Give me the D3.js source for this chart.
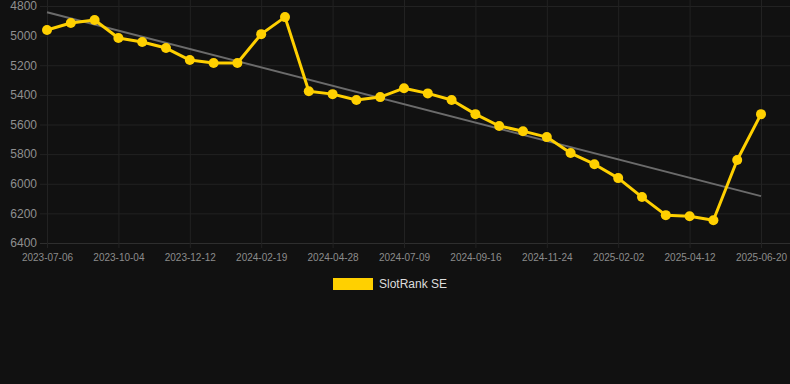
<!DOCTYPE html>
<html>
<head>
<meta charset="utf-8">
<script src="https://cdn.jsdelivr.net/npm/d3@7"></script>
<style>
  html, body { margin: 0; padding: 0; background: #111111; }
  svg { display: block; font-family: "Liberation Sans", Arial, Helvetica, sans-serif; }
</style>
</head>
<body>
<div class="chart"></div>
<script>
// rank per sample (lower is better, axis is reversed)
const ranks = [
  4962, 4915, 4895, 5016, 5043, 5084, 5165, 5185, 5185, 4990,
  4875, 5375, 5395, 5435, 5415, 5355, 5390, 5435, 5530, 5610,
  5645, 5685, 5793, 5868, 5962, 6090, 6212, 6219, 6246, 5840,
  5530
];
// every third sample carries a date label
const tickLabels = [
  '2023-07-06', '2023-10-04', '2023-12-12', '2024-02-19', '2024-04-28',
  '2024-07-09', '2024-09-16', '2024-11-24', '2025-02-02', '2025-04-12',
  '2025-06-20'
];
const yTicks = [4800, 5000, 5200, 5400, 5600, 5800, 6000, 6200, 6400];
const seriesName = 'SlotRank SE';

const FULL_WIDTH = 790;
const FULL_HEIGHT = 384;
const margin = { top: 6, right: 29, bottom: 141, left: 47 };
const height = FULL_HEIGHT - margin.top - margin.bottom;
const width = FULL_WIDTH - margin.left - margin.right;

const svg = d3.select('.chart')
  .append('svg')
    .attr('width', FULL_WIDTH)
    .attr('height', FULL_HEIGHT);

svg.append('rect')
  .attr('width', FULL_WIDTH)
  .attr('height', FULL_HEIGHT)
  .attr('fill', '#111111');

const g = svg.append('g')
  .attr('transform', `translate(${margin.left}, ${margin.top})`);

const xScale = d3.scalePoint()
  .domain(d3.range(ranks.length))
  .range([0, width]);

const yScale = d3.scaleLinear()
  .domain([4800, 6400])
  .range([0, height]);

// horizontal grid
g.append('g')
  .call(d3.axisLeft(yScale)
    .tickValues(yTicks)
    .tickSize(-(FULL_WIDTH - margin.left + 7))
    .tickPadding(10)
    .tickFormat(d3.format('d')))
  .call(ax => ax.select('.domain').remove())
  .call(ax => ax.selectAll('.tick line')
    .attr('x1', -7)
    .attr('stroke', d => d === 6400 ? '#2e2e2e' : '#222222'))
  .call(ax => ax.selectAll('.tick text')
    .attr('fill', '#8f8f8f')
    .attr('font-size', 12));

// vertical grid + date labels
const tickIdx = tickLabels.map((d, i) => i * 3);
g.append('g')
  .attr('transform', `translate(0, ${height})`)
  .call(d3.axisBottom(xScale)
    .tickValues(tickIdx)
    .tickSize(5)
    .tickPadding(6)
    .tickFormat((d, i) => tickLabels[i]))
  .call(ax => ax.select('.domain').remove())
  .call(ax => ax.selectAll('.tick line')
    .attr('y1', -height - margin.top)
    .attr('stroke', '#222222'))
  .call(ax => ax.selectAll('.tick text')
    .attr('fill', '#8c8c8c')
    .attr('font-size', 10));

// least squares trend
const n = ranks.length;
const mx = d3.mean(d3.range(n));
const my = d3.mean(ranks);
const slope = d3.sum(ranks, (v, i) => (i - mx) * (v - my)) /
  d3.sum(d3.range(n), i => (i - mx) ** 2);
const trend = [0, n - 1].map(i => ({ i, v: my + slope * (i - mx) }));

g.append('path')
  .datum(trend)
  .attr('fill', 'none')
  .attr('stroke', '#6b6b6b')
  .attr('stroke-width', 2)
  .attr('d', d3.line().x(d => xScale(d.i)).y(d => yScale(d.v)));

g.append('path')
  .datum(ranks)
  .attr('fill', 'none')
  .attr('stroke', '#ffd000')
  .attr('stroke-width', 3)
  .attr('stroke-linejoin', 'round')
  .attr('d', d3.line().x((d, i) => xScale(i)).y(d => yScale(d)));

g.selectAll('circle')
  .data(ranks)
  .enter()
  .append('circle')
    .attr('cx', (d, i) => xScale(i))
    .attr('cy', d => yScale(d))
    .attr('r', 5)
    .attr('fill', '#ffd000');

// legend
const legend = svg.append('g')
  .attr('transform', 'translate(333, 278)');
legend.append('rect')
  .attr('width', 40)
  .attr('height', 12)
  .attr('fill', '#ffd000');
legend.append('text')
  .attr('x', 46)
  .attr('y', 6)
  .attr('dy', '0.35em')
  .attr('fill', '#dddddd')
  .attr('font-size', 12)
  .text(seriesName);
</script>
</body>
</html>
